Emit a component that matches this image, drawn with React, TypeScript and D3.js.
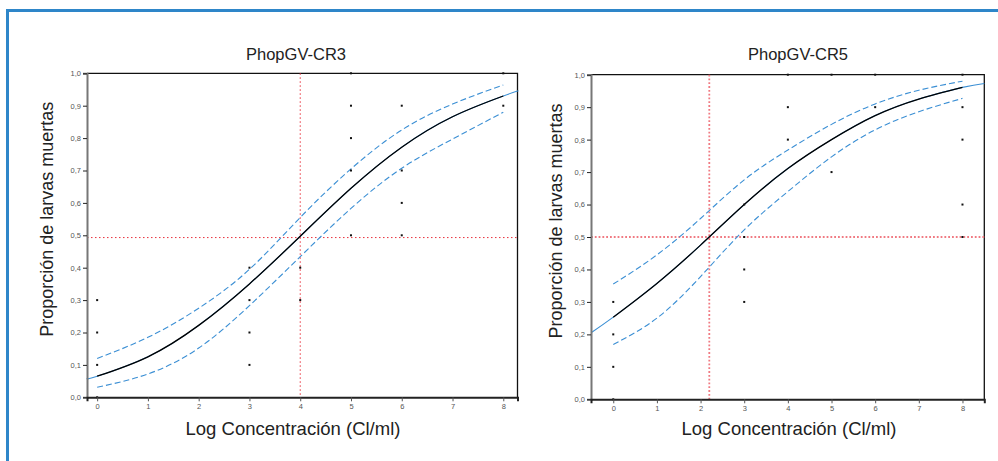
import React, { useEffect, useRef } from 'react';
import * as d3 from 'd3';

// ---- data ----
const xTicks = [0, 1, 2, 3, 4, 5, 6, 7, 8];
const yTicks = [0, 0.1, 0.2, 0.3, 0.4, 0.5, 0.6, 0.7, 0.8, 0.9, 1.0];

// PhopGV-CR3
const cr3FitX = [0, 1, 2, 3, 4, 5, 6, 7, 8];
const cr3Fit = [0.065, 0.125, 0.222, 0.35, 0.497, 0.645, 0.772, 0.866, 0.93];
const cr3Upper = [0.12, 0.185, 0.275, 0.395, 0.555, 0.705, 0.825, 0.905, 0.964];
const cr3Lower = [0.031, 0.072, 0.152, 0.283, 0.434, 0.583, 0.707, 0.797, 0.88];
const cr3ExtX = [-0.2, 8.3];
const cr3ExtY = [0.058, 0.946];
const cr3PtsX = [0, 0, 0, 0, 3, 3, 3, 3, 4, 4, 5, 5, 5, 5, 5, 6, 6, 6, 6, 8, 8];
const cr3PtsY = [0.3, 0.2, 0.1, 0.0, 0.4, 0.3, 0.2, 0.1, 0.4, 0.3, 1.0, 0.9, 0.8, 0.7, 0.5, 0.9, 0.7, 0.6, 0.5, 1.0, 0.9];
const cr3LD50 = 4;
const cr3Half = 0.493;

// PhopGV-CR5
const cr5FitX = [0, 1, 2, 3, 4, 5, 6, 7, 8];
const cr5Fit = [0.253, 0.357, 0.475, 0.6, 0.711, 0.8, 0.874, 0.925, 0.961];
const cr5Upper = [0.355, 0.445, 0.557, 0.676, 0.768, 0.847, 0.91, 0.952, 0.98];
const cr5Lower = [0.169, 0.25, 0.378, 0.522, 0.64, 0.747, 0.83, 0.886, 0.927];
const cr5ExtX = [-0.5, 8.5];
const cr5ExtY = [0.206, 0.973];
const cr5PtsX = [0, 0, 0, 0, 3, 3, 3, 3, 4, 4, 4, 5, 5, 6, 6, 8, 8, 8, 8, 8];
const cr5PtsY = [0.3, 0.2, 0.1, 0.0, 0.6, 0.5, 0.4, 0.3, 1.0, 0.9, 0.8, 1.0, 0.7, 1.0, 0.9, 1.0, 0.9, 0.8, 0.6, 0.5];
const cr5LD50 = 2.2;
const cr5Half = 0.5;

const FONT = '"Liberation Sans", Arial, Helvetica, sans-serif';
const BLUE = '#3b8fd4';

const drawPanel = (svg, o) => {
  const g = svg.append('g');
  const x = d3.scaleLinear().domain(o.xDomain).range([o.left, o.right]);
  const y = d3.scaleLinear().domain([0, 1]).range([o.bottom, o.top]);

  // frame top/right
  g.append('path')
    .attr('d', `M${o.left},${o.top}H${o.right}V${o.bottom}`)
    .attr('fill', 'none').attr('stroke', '#111').attr('stroke-width', 1.3);

  // reference lines
  g.append('line')
    .attr('x1', o.left).attr('x2', o.right)
    .attr('y1', y(o.half)).attr('y2', y(o.half))
    .attr('stroke', o.refColor).attr('stroke-width', o.refWidth)
    .attr('stroke-dasharray', o.refDash);
  g.append('line')
    .attr('x1', x(o.ld50)).attr('x2', x(o.ld50))
    .attr('y1', o.top).attr('y2', o.bottom)
    .attr('stroke', o.refColor).attr('stroke-width', o.refWidth)
    .attr('stroke-dasharray', o.refDash);

  const line = d3.line().x(d => x(d[0])).y(d => y(d[1])).curve(d3.curveNatural);

  // extension of the fit in blue
  const fitPts = o.fitX.map((v, i) => [v, o.fit[i]]);
  g.append('path')
    .datum([[o.extX[0], o.extY[0]], ...fitPts, [o.extX[1], o.extY[1]]])
    .attr('d', line)
    .attr('fill', 'none').attr('stroke', BLUE).attr('stroke-width', 1.1);

  // confidence bands
  [o.upper, o.lower].forEach(band => {
    g.append('path')
      .datum(o.fitX.map((v, i) => [v, band[i]]))
      .attr('d', line)
      .attr('fill', 'none').attr('stroke', BLUE).attr('stroke-width', 1.1)
      .attr('stroke-dasharray', '6,3');
  });

  // fit
  g.append('path')
    .datum(fitPts)
    .attr('d', line)
    .attr('fill', 'none').attr('stroke', '#000').attr('stroke-width', 1.3);

  // observed points
  g.selectAll('rect.pt')
    .data(o.ptsX.map((v, i) => [v, o.ptsY[i]]))
    .enter().append('rect')
    .attr('class', 'pt')
    .attr('x', d => x(d[0]) - 1).attr('y', d => y(d[1]) - 1)
    .attr('width', 2).attr('height', 2)
    .attr('fill', '#111');

  // axes
  const fmt = d => d3.format('.1f')(d).replace('.', ',');
  const yAxis = g.append('g')
    .attr('transform', `translate(${o.left},0)`)
    .call(d3.axisLeft(y).tickValues(yTicks).tickSize(4).tickPadding(2).tickFormat(fmt));
  yAxis.select('.domain').attr('stroke', '#777').attr('stroke-width', 2);
  yAxis.selectAll('.tick line').attr('stroke', '#222');
  yAxis.selectAll('text').attr('fill', '#555').style('font-size', '7.5px').style('font-family', FONT);

  const xAxis = g.append('g')
    .attr('transform', `translate(0,${o.bottom})`)
    .call(d3.axisBottom(x).tickValues(xTicks).tickSize(4).tickPadding(2).tickFormat(d3.format('d')));
  xAxis.select('.domain').attr('stroke', '#222').attr('stroke-width', 2);
  xAxis.selectAll('.tick line').attr('stroke', '#555');
  xAxis.selectAll('text').attr('fill', '#555').style('font-size', '7.5px').style('font-family', FONT);

  // titles
  g.append('text')
    .attr('x', o.titleX).attr('y', 60)
    .attr('text-anchor', 'middle')
    .style('font-family', FONT).style('font-size', '16.5px').attr('fill', '#222')
    .text(o.title);
  g.append('text')
    .attr('x', o.xLabelX).attr('y', 435)
    .attr('text-anchor', 'middle')
    .style('font-family', FONT).style('font-size', '18.5px').attr('fill', '#222')
    .text('Log Concentración (Cl/ml)');
  g.append('text')
    .attr('transform', `translate(${o.yLabelX},${(o.top + o.bottom) / 2 - 16}) rotate(-90)`)
    .attr('text-anchor', 'middle')
    .style('font-family', FONT).style('font-size', '18px').attr('fill', '#222')
    .text('Proporción de larvas muertas');
};

const App = () => {
  const svgRef = useRef(null);

  useEffect(() => {
    const svg = d3.select(svgRef.current);
    svg.selectAll('*').remove();

    // outer blue frame
    svg.append('path')
      .attr('d', 'M7.5,470V10.5H1000')
      .attr('fill', 'none').attr('stroke', '#2e86c9').attr('stroke-width', 3);

    drawPanel(svg, {
      title: 'PhopGV-CR3', titleX: 296, xLabelX: 293, yLabelX: 53,
      left: 87, right: 517.5, top: 73.3, bottom: 397.3,
      xDomain: [-0.2, 8.28],
      fitX: cr3FitX, fit: cr3Fit, upper: cr3Upper, lower: cr3Lower,
      extX: cr3ExtX, extY: cr3ExtY,
      ptsX: cr3PtsX, ptsY: cr3PtsY,
      ld50: cr3LD50, half: cr3Half,
      refColor: '#e8303c', refWidth: 1, refDash: '1.5,2.5',
    });

    drawPanel(svg, {
      title: 'PhopGV-CR5', titleX: 798, xLabelX: 789, yLabelX: 562,
      left: 591, right: 984.3, top: 74.7, bottom: 399.3,
      xDomain: [-0.51, 8.5],
      fitX: cr5FitX, fit: cr5Fit, upper: cr5Upper, lower: cr5Lower,
      extX: cr5ExtX, extY: cr5ExtY,
      ptsX: cr5PtsX, ptsY: cr5PtsY,
      ld50: cr5LD50, half: cr5Half,
      refColor: '#f07a82', refWidth: 1.8, refDash: '1.8,2',
    });
  }, []);

  return (
    <svg
      ref={svgRef}
      width={998}
      height={461}
      style={{ position: 'absolute', left: 0, top: 0, background: '#fff' }}
    />
  );
};

export default App;
